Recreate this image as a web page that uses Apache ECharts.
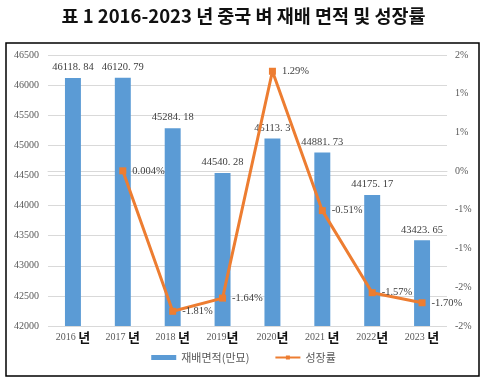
<!DOCTYPE html>
<html>
<head>
<meta charset="utf-8">
<script src="https://cdn.jsdelivr.net/npm/echarts@6/dist/echarts.min.js"></script>
<style>
html,body{margin:0;padding:0;background:#fff;}
#chart{width:487px;height:384px;}
</style>
</head>
<body>
<div id="chart"></div>
<script>
var categories = ["2016 년","2017 년","2018 년","2019년","2020년","2021 년","2022년","2023 년"];
var areaValues = [46118.84, 46120.79, 45284.18, 44540.28, 45113.3, 44881.73, 44175.17, 43423.65];
var areaLabels = ["46118. 84","46120. 79","45284. 18","44540. 28","45113. 3","44881. 73","44175. 17","43423. 65"];
var growthValues = [null, 0.004, -1.81, -1.64, 1.29, -0.51, -1.57, -1.70];
var growthLabels = ["", "0.004%", "-1.81%", "-1.64%", "1.29%", "-0.51%", "-1.57%", "-1.70%"];
var seriesNames = ["재배면적(만묘)", "성장률"];
var titleText = "표 1 2016-2023 년 중국 벼 재배 면적 및 성장률";

var serif = "'Liberation Serif','DejaVu Serif',serif";
var kr = "'Noto Sans CJK KR','Noto Sans',sans-serif";

var chart = echarts.init(document.getElementById('chart'), null, {renderer:'canvas'});
chart.setOption({
  animation: false,
  backgroundColor: '#fff',
  title: {
    text: titleText, left: 'center', top: 2,
    textStyle: {fontFamily: kr, fontWeight: 'bold', fontSize: 18.5, color: '#111'}
  },
  graphic: [{
    type: 'rect', z: 0, silent: true,
    shape: {x: 6, y: 43, width: 473, height: 333},
    style: {fill: 'none', stroke: '#000', lineWidth: 1.5}
  }],
  legend: {
    bottom: 16, left: 'center', itemGap: 25,
    itemWidth: 25, itemHeight: 5,
    textStyle: {fontFamily: kr, fontSize: 11, color: '#595959'},
    data: [{name: seriesNames[0], icon: 'rect'}, {name: seriesNames[1]}]
  },
  grid: {left: 48, right: 40, top: 55, bottom: 58, containLabel: false},
  xAxis: {
    type: 'category', data: categories,
    axisLine: {lineStyle: {color: '#D9D9D9'}},
    axisTick: {show: false},
    axisLabel: {
      margin: 5, interval: 0,
      formatter: function (v) {
        var p = v.split('년');
        return '{y|' + p[0] + '}{n|년}';
      },
      rich: {
        y: {fontFamily: serif, fontSize: 10, color: '#595959'},
        n: {fontFamily: kr, fontWeight: 'bold', fontSize: 13, color: '#111'}
      }
    }
  },
  yAxis: [{
    type: 'value', min: 42000, max: 46500, interval: 500,
    axisLine: {show: false}, axisTick: {show: false},
    splitLine: {lineStyle: {color: '#D9D9D9'}},
    axisLabel: {margin: 9, fontFamily: serif, fontSize: 10, color: '#595959',
      formatter: function (v) { return String(v); }}
  }, {
    type: 'value', min: -2, max: 1.5, interval: 0.5,
    axisLine: {show: false}, axisTick: {show: false},
    splitLine: {show: false},
    axisLabel: {
      margin: 8, fontFamily: serif, fontSize: 10, color: '#595959',
      formatter: function (v) {
        var r = Math.sign(v) * Math.round(Math.abs(v));
        return (r === 0 ? 0 : r) + '%';
      }
    }
  }],
  series: [{
    name: seriesNames[0], type: 'bar', yAxisIndex: 0,
    data: areaValues, barWidth: '32%',
    itemStyle: {color: '#5B9BD5'},
    label: {
      show: true, position: 'top', distance: 5,
      fontFamily: serif, fontSize: 10.5, color: '#404040',
      formatter: function (p) { return areaLabels[p.dataIndex]; }
    }
  }, {
    name: seriesNames[1], type: 'line', yAxisIndex: 1,
    data: growthValues, connectNulls: false,
    symbol: 'rect', symbolSize: 7,
    lineStyle: {color: '#ED7D31', width: 3},
    itemStyle: {color: '#ED7D31'},
    z: 5,
    label: {
      show: true, position: 'right', distance: 6,
      fontFamily: serif, fontSize: 10.5, color: '#404040',
      formatter: function (p) { return growthLabels[p.dataIndex]; }
    }
  }]
});
</script>
</body>
</html>
